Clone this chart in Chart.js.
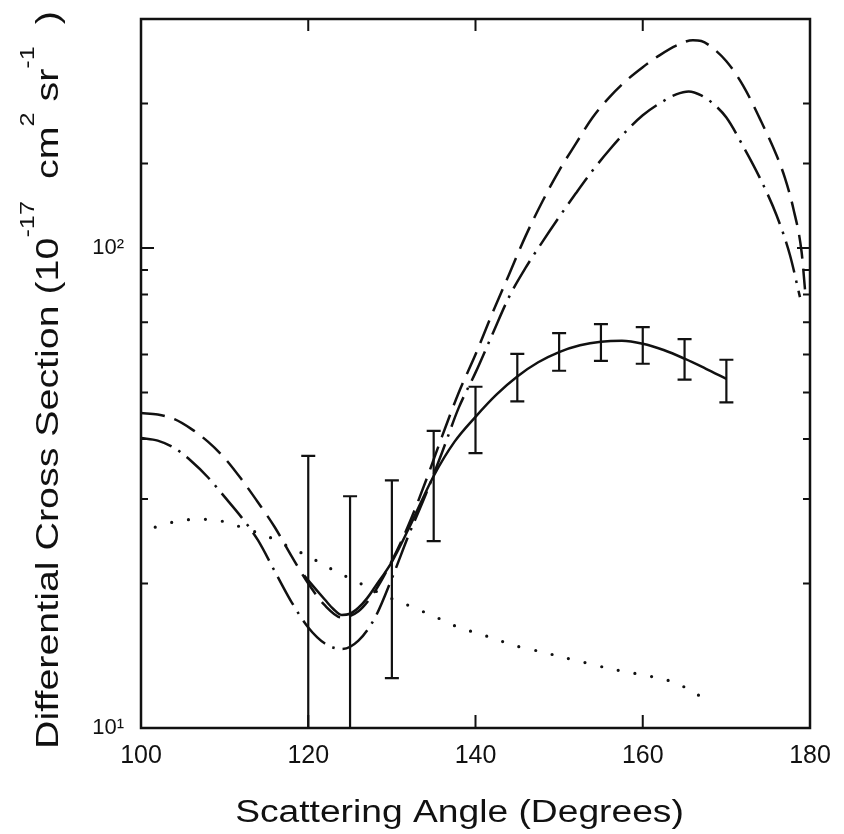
<!DOCTYPE html>
<html>
<head>
<meta charset="utf-8">
<title>Differential Cross Section</title>
<script src="https://cdn.jsdelivr.net/npm/chart.js@4.4.1/dist/chart.umd.min.js"></script>
<style>
  html, body { margin: 0; padding: 0; background: #fff; }
  #chart-container { width: 844px; height: 834px; }
</style>
</head>
<body>
<div id="chart-container"><canvas id="chart" width="844" height="834"></canvas></div>
<script>
// Cross sections in 1e-17 cm^2 sr^-1, angles in degrees

// solid curve (fit through the measured points)
const solidAngles = [119.5, 120, 122, 123, 124, 125, 126, 127, 128, 130, 132, 135, 137.5, 140, 142.5, 145, 147.5, 150, 152.5, 155, 157.5, 160, 162.5, 165, 167.5, 170];
const solidValues = [20.8, 20.3, 18.5, 17.7, 17.2, 17.3, 17.8, 18.6, 19.7, 22.2, 26.0, 33.5, 39.5, 44.5, 49.5, 54.0, 57.8, 60.7, 62.7, 63.8, 64.1, 63.2, 61.3, 58.8, 56.1, 53.4];

// long dashed curve
const dashAngles = [100, 102, 104, 106, 108, 110, 112, 114, 116, 118, 120, 122, 124, 126, 128, 130, 132, 134, 136, 138, 140, 142, 144, 146, 148, 150, 152, 154, 156, 158, 160, 162, 164, 166, 167, 168, 170, 172, 174, 176, 177, 178, 179, 179.4];
const dashValues = [45.3, 45.0, 44.0, 42.0, 39.5, 36.5, 33.0, 29.5, 26.2, 22.8, 20.0, 18.0, 17.0, 17.5, 19.3, 22.3, 26.5, 32.5, 40.5, 50, 60, 73, 88, 106, 125, 145, 165, 187, 206, 223, 238, 252, 264, 271, 270, 264, 245, 218, 186, 156, 140, 121, 98, 82];

// dash-dot curve
const dashDotAngles = [100, 102, 104, 106, 108, 110, 112, 114, 116, 118, 120, 122, 124, 126, 128, 130, 132, 134, 136, 138, 140, 142, 144, 146, 148, 150, 152, 154, 156, 158, 160, 162, 164, 165.5, 167, 168.4, 170, 172, 174, 176, 177.6, 178.8];
const dashDotValues = [40.2, 39.7, 38.3, 36.0, 33.3, 30.3, 27.5, 24.6, 21.2, 18.3, 16.2, 15.0, 14.6, 15.2, 17.0, 20.5, 25.2, 30.5, 37.5, 46.5, 55, 66, 79, 91, 103, 116, 130, 145, 160, 175, 189, 200, 209, 212, 208, 200, 187, 163, 140, 117, 96.7, 79];

// dotted curve
const dotAngles = [101.7, 104, 106, 108, 110, 112, 114, 116, 118, 120, 122, 124, 126, 128, 130, 132, 134, 136, 138, 140, 142, 145, 148, 150, 153, 156, 158, 160, 162, 164, 166, 168];
const dotValues = [26.2, 26.9, 27.2, 27.2, 26.9, 26.2, 25.5, 24.7, 23.7, 22.8, 21.8, 20.9, 20.1, 19.3, 18.6, 18.0, 17.4, 16.8, 16.2, 15.8, 15.4, 14.8, 14.4, 14.1, 13.7, 13.3, 13.1, 12.9, 12.7, 12.4, 11.9, 11.3];

// measured points: error bar ends
const errAngles = [120, 125, 130, 135, 140, 145, 150, 155, 160, 165, 170];
const errHigh = [36.9, 30.4, 32.8, 41.6, 51.4, 60.2, 66.5, 69.4, 68.4, 64.6, 58.5];
const errLow = [3.7, 4.2, 12.7, 24.5, 37.4, 47.9, 55.5, 58.2, 57.4, 53.2, 47.7];

// axes
const xTickValues = [100, 120, 140, 160, 180];
const yTickLabels = { 10: "10¹", 100: "10²" };
const xTitle = "Scattering Angle (Degrees)";
const yTitleParts = [
  { text: "Differential Cross Section (10", sup: false },
  { text: "-17", sup: true },
  { text: "  cm", sup: false },
  { text: "2", sup: true },
  { text: " sr", sup: false },
  { text: "-1", sup: true },
  { text: "  )", sup: false },
];

const FONT = "'Liberation Sans', Arial, Helvetica, sans-serif";
const INK = "#111";

const toPoints = (xs, ys) => xs.map((x, i) => ({ x: x, y: ys[i] }));

const curve = (label, xs, ys, extra) =>
  Object.assign(
    {
      label: label,
      data: toPoints(xs, ys),
      borderColor: INK,
      borderWidth: 2.5,
      pointRadius: 0,
      fill: false,
      cubicInterpolationMode: "monotone",
    },
    extra
  );

// frame, inward ticks, error bars and axis titles
const plotExtras = {
  id: "plotExtras",
  afterDatasetsDraw(chart) {
    const ctx = chart.ctx;
    const area = chart.chartArea;
    const xs = chart.scales.x;
    const ys = chart.scales.y;
    ctx.save();
    ctx.beginPath();
    ctx.rect(area.left, area.top, area.right - area.left, area.bottom - area.top);
    ctx.clip();
    ctx.strokeStyle = INK;
    ctx.lineWidth = 2.2;
    errAngles.forEach((a, i) => {
      const px = xs.getPixelForValue(a);
      const top = ys.getPixelForValue(errHigh[i]);
      const bot = ys.getPixelForValue(errLow[i]);
      ctx.beginPath();
      ctx.moveTo(px, top);
      ctx.lineTo(px, bot);
      ctx.moveTo(px - 7, top);
      ctx.lineTo(px + 7, top);
      ctx.moveTo(px - 7, bot);
      ctx.lineTo(px + 7, bot);
      ctx.stroke();
    });
    ctx.restore();
  },
  afterDraw(chart) {
    const ctx = chart.ctx;
    const area = chart.chartArea;
    const xs = chart.scales.x;
    const ys = chart.scales.y;

    ctx.save();
    ctx.strokeStyle = INK;
    ctx.lineWidth = 2.5;
    ctx.strokeRect(area.left, area.top, area.right - area.left, area.bottom - area.top);

    // y ticks, both sides
    ctx.lineWidth = 2;
    ys.ticks.forEach((t) => {
      const v = t.value;
      if (v <= ys.min || v >= ys.max) return;
      const py = ys.getPixelForValue(v);
      const len = Number.isInteger(Math.log10(v)) ? 13 : 7;
      ctx.beginPath();
      ctx.moveTo(area.left, py);
      ctx.lineTo(area.left + len, py);
      ctx.moveTo(area.right, py);
      ctx.lineTo(area.right - len, py);
      ctx.stroke();
    });

    // x ticks, bottom and top
    xTickValues.forEach((v) => {
      if (v <= xs.min || v >= xs.max) return;
      const px = xs.getPixelForValue(v);
      ctx.beginPath();
      ctx.moveTo(px, area.bottom);
      ctx.lineTo(px, area.bottom - 13);
      ctx.moveTo(px, area.top);
      ctx.lineTo(px, area.top + 12);
      ctx.stroke();
    });

    // x title (the original lettering is a little wide)
    ctx.fillStyle = INK;
    ctx.font = `31px ${FONT}`;
    ctx.textAlign = "center";
    ctx.textBaseline = "alphabetic";
    ctx.save();
    ctx.translate((area.left + area.right) / 2 - 16, 822);
    ctx.scale(1.2, 1);
    ctx.fillText(xTitle, 0, 0);
    ctx.restore();

    // y title, rotated, with superscripts
    const mainFont = `31px ${FONT}`;
    const supFont = `20px ${FONT}`;
    let total = 0;
    yTitleParts.forEach((p) => {
      ctx.font = p.sup ? supFont : mainFont;
      p.w = ctx.measureText(p.text).width;
      total += p.w;
    });
    const stretch = 1.27;
    ctx.save();
    ctx.translate(58, 380);
    ctx.rotate(-Math.PI / 2);
    ctx.scale(stretch, 1);
    ctx.textAlign = "left";
    let cx = -total / 2;
    yTitleParts.forEach((p) => {
      ctx.font = p.sup ? supFont : mainFont;
      ctx.fillText(p.text, cx, p.sup ? -24 : 0);
      cx += p.w;
    });
    ctx.restore();
    ctx.restore();
  },
};

const ctx = document.getElementById("chart").getContext("2d");
new Chart(ctx, {
  type: "line",
  data: {
    datasets: [
      curve("fit", solidAngles, solidValues, {}),
      curve("dashed", dashAngles, dashValues, { borderDash: [24, 10] }),
      curve("dash-dot", dashDotAngles, dashDotValues, { borderDash: [32, 8, 2.5, 8] }),
      curve("dotted", dotAngles, dotValues, {
        borderDash: [0, 17],
        borderCapStyle: "round",
        borderWidth: 3.2,
        cubicInterpolationMode: "default",
        tension: 0.3,
      }),
    ],
  },
  options: {
    responsive: false,
    animation: false,
    layout: { padding: { top: 0, right: 34, left: 0, bottom: 0 } },
    plugins: {
      legend: { display: false },
      tooltip: { enabled: false },
    },
    scales: {
      x: {
        type: "linear",
        min: 100,
        max: 180,
        afterBuildTicks(scale) {
          scale.ticks = xTickValues.map((v) => ({ value: v }));
        },
        ticks: {
          color: INK,
          font: { family: FONT, size: 25 },
          padding: 5,
          maxRotation: 0,
        },
        grid: { display: false },
        border: { display: false },
        afterFit(scale) {
          scale.height = 106;
        },
      },
      y: {
        type: "logarithmic",
        min: 10,
        max: 300,
        ticks: {
          autoSkip: false,
          color: INK,
          font: { family: FONT, size: 22, lineHeight: "20px" },
          padding: 9,
          callback: (v) => yTickLabels[v] || "",
        },
        grid: { display: false },
        border: { display: false },
        afterFit(scale) {
          scale.width = 141;
        },
      },
    },
  },
  plugins: [plotExtras],
});
</script>
</body>
</html>
